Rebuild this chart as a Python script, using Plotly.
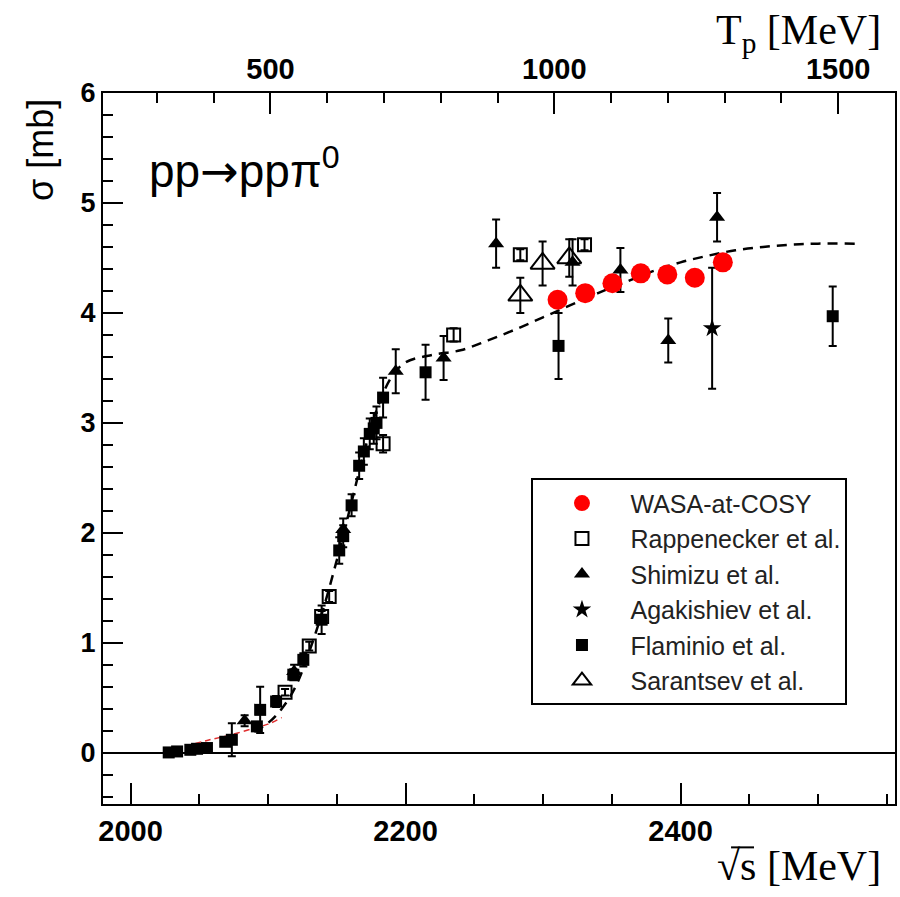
import plotly.graph_objects as go

# ---- data: sqrt(s) [MeV], sigma [mb], error [mb] ----
wasa_x = [2310.6, 2330.7, 2350.5, 2371.1, 2390.4, 2410.4, 2430.8]
wasa_y = [4.12, 4.18, 4.27, 4.36, 4.35, 4.32, 4.46]

rapp_x = [2112.4, 2130.0, 2139.0, 2144.5, 2183.7, 2235.0, 2283.5, 2330.2]
rapp_y = [0.55, 0.97, 1.24, 1.42, 2.81, 3.80, 4.53, 4.62]
rapp_e = [0.03, 0.04, 0.05, 0.05, 0.08, 0.06, 0.05, 0.05]

shim_x = [2083.0, 2119.0, 2154.7, 2192.9, 2227.7, 2265.9, 2321.5, 2356.3, 2391.1, 2426.6]
shim_y = [0.29, 0.74, 2.03, 3.47, 3.59, 4.63, 4.46, 4.39, 3.75, 4.87]
shim_e = [0.05, 0.06, 0.10, 0.20, 0.20, 0.22, 0.21, 0.20, 0.20, 0.22]

agak_x = [2423.0]
agak_y = [3.86]
agak_e = [0.55]

flam_x = [2027.8, 2033.9, 2043.5, 2048.4, 2055.6, 2068.9, 2073.7, 2091.9, 2094.3,
          2105.9, 2118.4, 2125.7, 2139.0, 2151.8, 2154.7, 2160.8, 2166.3, 2169.7,
          2174.0, 2176.9, 2178.9, 2183.7, 2214.6, 2311.3, 2510.7]
flam_y = [0.003, 0.012, 0.027, 0.036, 0.043, 0.10, 0.118, 0.24, 0.39,
          0.466, 0.71, 0.845, 1.21, 1.84, 1.97, 2.25, 2.61, 2.74,
          2.90, 2.95, 3.00, 3.23, 3.46, 3.70, 3.97]
flam_e = [0.01, 0.01, 0.01, 0.01, 0.02, 0.03, 0.15, 0.04, 0.21,
          0.05, 0.05, 0.06, 0.13, 0.12, 0.10, 0.10, 0.12, 0.12,
          0.14, 0.14, 0.15, 0.18, 0.25, 0.30, 0.27]

sar_x = [2283.5, 2299.7, 2319.1]
sar_y = [4.16, 4.45, 4.50]
sar_e = [0.16, 0.20, 0.17]

# model curve (black dashed)
model_x = [2090, 2100, 2110, 2120, 2130, 2140, 2150, 2160, 2170, 2180, 2190, 2200,
           2220, 2240, 2260, 2280, 2300, 2320, 2340, 2360, 2380, 2400, 2420,
           2440, 2460, 2480, 2500, 2527]
model_y = [0.19, 0.27, 0.40, 0.60, 0.92, 1.30, 1.75, 2.24, 2.74, 3.15, 3.42, 3.55,
           3.62, 3.66, 3.75, 3.85, 3.96, 4.07, 4.18, 4.28, 4.38, 4.46, 4.52,
           4.57, 4.60, 4.62, 4.63, 4.63]

# near-threshold curve (red dashed)
thr_x = [2040, 2055, 2072, 2089, 2100, 2110]
thr_y = [0.06, 0.11, 0.16, 0.22, 0.26, 0.32]

x_range = [1980, 2556]
tp_range = [205, 1600]
y_range = [-0.466, 6]

BLACK = "#000000"
err = dict(type="data", thickness=2, width=4, color=BLACK)

fig = go.Figure()

fig.add_trace(go.Scatter(x=model_x, y=model_y, mode="lines", showlegend=False,
                         line=dict(color=BLACK, width=2.5, dash="10px,7px", shape="spline")))
fig.add_trace(go.Scatter(x=thr_x, y=thr_y, mode="lines", showlegend=False,
                         line=dict(color="#e03030", width=1.5, dash="6px,4px", shape="spline")))

fig.add_trace(go.Scatter(x=flam_x, y=flam_y, mode="markers", name="Flaminio et al.",
                         error_y=dict(array=flam_e, **err),
                         marker=dict(symbol="square", size=12, color=BLACK)))
fig.add_trace(go.Scatter(x=rapp_x, y=rapp_y, mode="markers", name="Rappenecker et al.",
                         error_y=dict(array=rapp_e, **err),
                         marker=dict(symbol="square-open", size=13, color=BLACK,
                                     line=dict(width=2, color=BLACK))))
fig.add_trace(go.Scatter(x=shim_x, y=shim_y, mode="markers", name="Shimizu et al.",
                         error_y=dict(array=shim_e, **err),
                         marker=dict(symbol="triangle-up", size=14, color=BLACK)))
fig.add_trace(go.Scatter(x=agak_x, y=agak_y, mode="markers", name="Agakishiev et al.",
                         error_y=dict(array=agak_e, **err),
                         marker=dict(symbol="star", size=14, color=BLACK)))
fig.add_trace(go.Scatter(x=sar_x, y=sar_y, mode="markers", name="Sarantsev et al.",
                         error_y=dict(array=sar_e, **err),
                         marker=dict(symbol="triangle-up-open", size=21, color=BLACK,
                                     line=dict(width=2, color=BLACK))))
fig.add_trace(go.Scatter(x=wasa_x, y=wasa_y, mode="markers", name="WASA-at-COSY",
                         marker=dict(symbol="circle", size=20, color="#ff0000",
                                     line=dict(width=0))))

# top axis carrier
fig.add_trace(go.Scatter(x=[], y=[], xaxis="x2", showlegend=False))

# legend order
order = ["WASA-at-COSY", "Rappenecker et al.", "Shimizu et al.",
         "Agakishiev et al.", "Flaminio et al.", "Sarantsev et al."]
for tr in fig.data:
    if tr.name in order:
        tr.legendrank = order.index(tr.name) + 1

tickfont = dict(family="Liberation Sans, Arial, sans-serif", size=29, color=BLACK, weight="bold")

fig.update_layout(
    width=900, height=897,
    margin=dict(l=103, r=3, t=93, b=93),
    paper_bgcolor="white", plot_bgcolor="white",
    showlegend=True,
    legend=dict(x=0.541, y=0.458, xanchor="left", yanchor="top",
                bgcolor="white", bordercolor=BLACK, borderwidth=2,
                font=dict(family="Liberation Sans, Arial, sans-serif", size=25, color="#222"),
                itemwidth=87, tracegroupgap=0),
    xaxis=dict(range=x_range, showgrid=False, zeroline=False,
               showline=True, linecolor=BLACK, linewidth=2, mirror=False,
               ticks="inside", ticklen=21, tickwidth=2, tickcolor=BLACK,
               tick0=2000, dtick=200, tickfont=tickfont,
               minor=dict(ticks="inside", ticklen=10, tickwidth=2, tickcolor=BLACK, dtick=50, showgrid=False)),
    xaxis2=dict(range=tp_range, overlaying="x", side="top", anchor="y",
                showgrid=False, zeroline=False,
                showline=True, linecolor=BLACK, linewidth=2,
                ticks="inside", ticklen=21, tickwidth=2, tickcolor=BLACK,
                tick0=0, dtick=500, tickfont=tickfont,
                minor=dict(ticks="inside", ticklen=10, tickwidth=2, tickcolor=BLACK, dtick=100, showgrid=False)),
    yaxis=dict(range=y_range, showgrid=False,
               zeroline=True, zerolinecolor=BLACK, zerolinewidth=2,
               showline=True, linecolor=BLACK, linewidth=2, mirror=True,
               ticks="inside", ticklen=20, tickwidth=2, tickcolor=BLACK,
               tick0=0, dtick=1, tickfont=dict(tickfont, size=27),
               minor=dict(ticks="inside", ticklen=10, tickwidth=2, tickcolor=BLACK, dtick=0.2, showgrid=False)),
)

serif = "Liberation Serif, Times New Roman, serif"
sans = "Liberation Sans, Arial, sans-serif"
fig.add_annotation(xref="paper", yref="paper", x=0.985, y=1.085, xanchor="right", yanchor="middle",
                   text="T<sub>p</sub> [MeV]", showarrow=False,
                   font=dict(family=serif, size=42, color=BLACK))
fig.add_annotation(xref="paper", yref="paper", x=0.985, y=-0.087, xanchor="right", yanchor="middle",
                   text="√s [MeV]", showarrow=False,
                   font=dict(family=serif, size=42, color=BLACK))
# overline of the square-root sign
fig.add_shape(type="line", xref="paper", yref="paper",
              x0=0.793, x1=0.822, y0=-0.061, y1=-0.061,
              line=dict(color=BLACK, width=2))
fig.add_annotation(xref="paper", yref="paper", x=-0.079, y=0.995, xanchor="center", yanchor="top",
                   text="σ [mb]", textangle=-90, showarrow=False,
                   font=dict(family=sans, size=36, color=BLACK))
fig.add_annotation(xref="paper", yref="paper", x=0.055, y=0.894, xanchor="left", yanchor="middle",
                   text="pp<span style='font-family:DejaVu Sans'>→</span>ppπ<sup>0</sup>",
                   showarrow=False,
                   font=dict(family=sans, size=46, color=BLACK))

fig.write_html("out.html")
